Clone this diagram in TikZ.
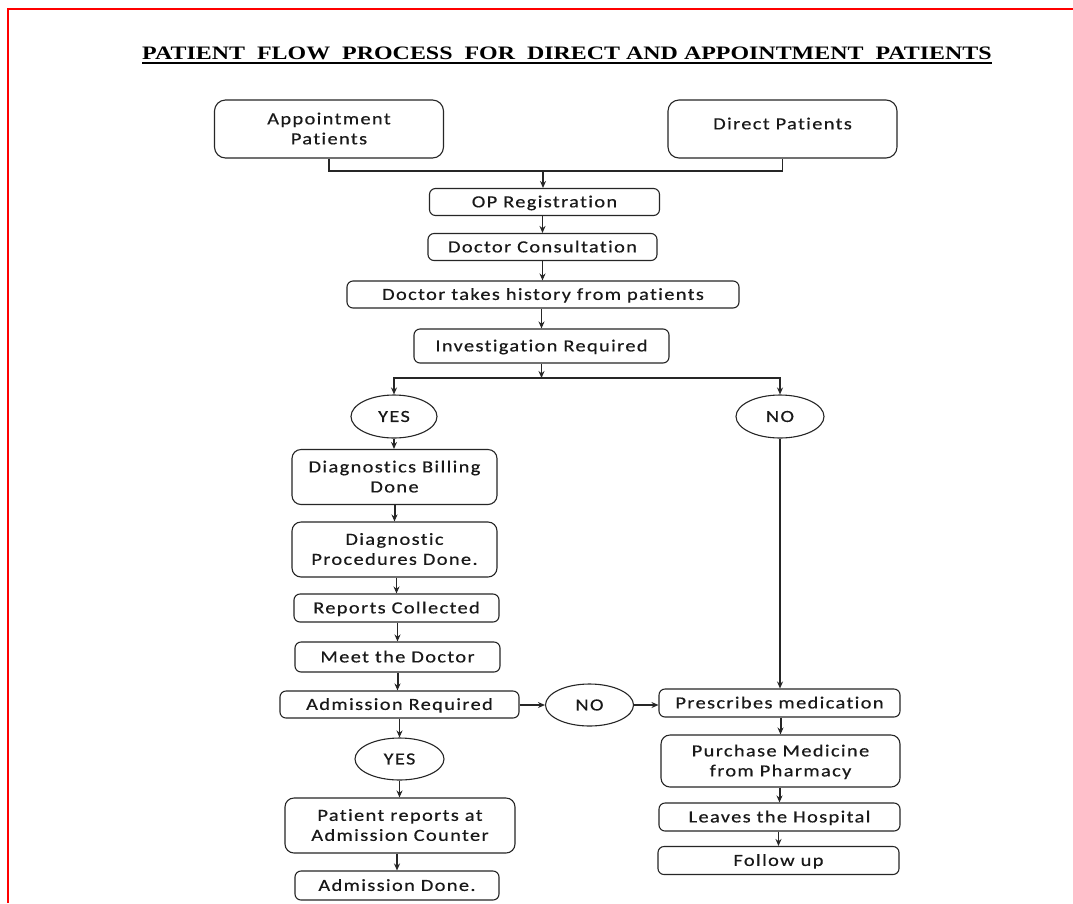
\documentclass[tikz,border=0pt]{standalone}
\usepackage{fontspec}
\setmainfont{Carlito}
\newfontfamily\boxfont[LetterSpace=8,FakeStretch=1.2,FakeBold=0.4,Ligatures=NoCommon,RawFeature={-liga}]{Carlito}
\newfontfamily\titlefont[FakeStretch=1.26]{Liberation Serif}
\usetikzlibrary{arrows.meta,shapes.geometric}
\begin{document}
\begin{tikzpicture}[x=1pt,y=-1pt,
  txt/.style={text=black!90,font=\boxfont\fontsize{17}{20}\selectfont},
  box/.style={txt,draw=black!85,line width=1.1pt,rounded corners=6pt,inner sep=0pt,align=center,text depth=1pt},
  bigbox/.style={box,rounded corners=11pt},
  midbox/.style={box,rounded corners=9pt},
  oval/.style={txt,draw=black!85,line width=1.1pt,ellipse,inner sep=0pt},
  link/.style={draw=black!85,line width=1.1pt},
  arr/.style={link,-{Stealth[length=7pt,width=6pt]}},
  tarr/.style={arr,line width=2pt}]
\useasboundingbox (0,0) rectangle (1073,903);
\fill[white] (0,0) rectangle (1073,903);
\draw[red,line width=2.2pt] (8,903) -- (8,9) -- (1073,9);

% title
\node[inner sep=0pt,font=\titlefont\bfseries\fontsize{19}{22}\selectfont] (title) at (567,53)
  {PATIENT\ \ FLOW\ \ PROCESS\ \ FOR\ \ DIRECT AND APPOINTMENT\ \ PATIENTS};
\draw[line width=1.5pt] ([yshift=-4pt]title.base west) -- ([yshift=-4pt]title.base east);

% boxes
\node[bigbox,minimum width=229pt,minimum height=58pt] (appt) at (329,129) {Appointment\\Patients};
\node[bigbox,minimum width=229pt,minimum height=58pt] (direct) at (782.5,129) {\raisebox{10pt}{Direct Patients}};
\node[box,minimum width=230pt,minimum height=27pt] (op) at (544.5,202) {OP Registration};
\node[box,minimum width=229pt,minimum height=27pt] (cons) at (542.5,247) {Doctor Consultation};
\node[box,minimum width=392pt,minimum height=27pt] (hist) at (543,294.5) {Doctor takes history from patients};
\node[box,minimum width=255pt,minimum height=34pt] (inv) at (541.5,346) {Investigation Required};
\coordinate (split) at (541.5,378);
\node[oval,minimum width=86pt,minimum height=43pt] (yes1) at (394,416.5) {YES};
\node[oval,minimum width=88pt,minimum height=43pt] (no1) at (780,416.5) {NO};
\node[midbox,minimum width=205pt,minimum height=55pt] (bill) at (394.5,477) {Diagnostics Billing\\Done};
\node[midbox,minimum width=205pt,minimum height=55pt] (proc) at (394.5,549.5) {Diagnostic\\Procedures Done.};
\node[box,minimum width=205pt,minimum height=28pt] (rep) at (396.5,608) {Reports Collected};
\node[box,minimum width=205pt,minimum height=30pt] (meet) at (397.5,657) {Meet the Doctor};
\node[box,minimum width=239pt,minimum height=27pt] (adm) at (399.5,704.5) {Admission Required};
\node[oval,minimum width=88pt,minimum height=42pt] (no2) at (589.5,705) {NO};
\node[box,minimum width=241pt,minimum height=28pt] (presc) at (779.5,703) {Prescribes medication};
\node[midbox,minimum width=239pt,minimum height=52pt] (purch) at (780.5,761) {Purchase Medicine\\from Pharmacy};
\node[box,minimum width=241pt,minimum height=28pt] (leaves) at (779.5,817) {Leaves the Hospital};
\node[box,minimum width=241pt,minimum height=28pt] (follow) at (778.5,860.5) {Follow up};
\node[oval,minimum width=89pt,minimum height=42pt] (yes2) at (399.5,759) {YES};
\node[midbox,minimum width=230pt,minimum height=55pt] (patrep) at (400,825.5) {Patient reports at\\Admission Counter};
\node[box,minimum width=204pt,minimum height=29pt] (done) at (397,885.5) {Admission Done.};

% connectors
\coordinate (join) at (543,171);
\draw[link] (appt.south) |- (join) -| (direct.south);
\draw[arr] (join) -- (join |- op.north);
\draw[arr] (op.south -| cons.north) -- (cons.north);
\draw[arr] (cons.south) -- (cons.south |- hist.north);
\draw[arr] (hist.south -| inv.north) -- (inv.north);
\draw[arr] (inv.south) -- (split);
\draw[arr] (split) -| (yes1.north);
\draw[arr] (split) -| (no1.north);
\draw[arr] (yes1.south) -- (yes1.south |- bill.north);
\draw[tarr] (bill.south) -- (bill.south |- proc.north);
\draw[arr] (proc.south -| rep.north) -- (rep.north);
\draw[arr] (rep.south -| meet.north) -- (meet.north);
\draw[tarr] (meet.south) -- (meet.south |- adm.north);
\draw[arr] (no1.south) -- (no1.south |- presc.north);
\draw[arr] (adm.east |- no2.west) -- (no2.west);
\draw[arr] (no2.east) -- (no2.east -| presc.west);
\draw[arr] (yes2.north |- adm.south) -- (yes2.north);
\draw[arr] (yes2.south) -- (yes2.south |- patrep.north);
\draw[tarr] (patrep.south -| done.north) -- (done.north);
\draw[tarr] (presc.south -| purch.north) -- (purch.north);
\draw[tarr] (purch.south -| leaves.north) -- (leaves.north);
\draw[arr] (leaves.south -| follow.north) -- (follow.north);
\end{tikzpicture}
\end{document}
